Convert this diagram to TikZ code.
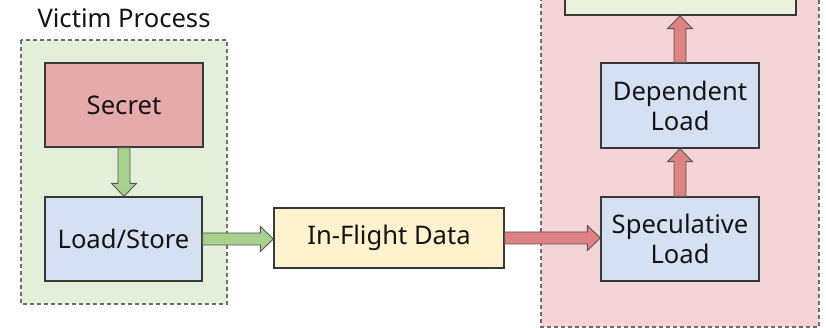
\documentclass[tikz,border=0pt]{standalone}
\usepackage{fontspec}
\setmainfont{Noto Sans}
\usetikzlibrary{calc}

\definecolor{victimbg}{HTML}{E3EFD9}
\definecolor{attackbg}{HTML}{F4D4D6}
\definecolor{secretfill}{HTML}{E6AAAA}
\definecolor{opfill}{HTML}{D5E1F3}
\definecolor{dataflight}{HTML}{FFF2CC}
\definecolor{resultfill}{HTML}{EBF1DA}
\definecolor{greenarrow}{HTML}{A9D18E}
\definecolor{redarrow}{HTML}{DF8283}
\definecolor{edge}{HTML}{383838}
\definecolor{dashgray}{HTML}{6E6E6E}
\definecolor{ink}{HTML}{141414}

\tikzset{
  region/.style={draw=dashgray, line width=1.2pt, dash pattern=on 4pt off 3pt},
  labelfont/.style={font=\fontsize{25.6}{30}\selectfont},
  box/.style={draw=edge, line width=1.3pt, text=ink, align=center,
              labelfont, inner sep=0pt},
  garrow/.style={draw=edge!85, line width=0.9pt, fill=greenarrow, line join=miter},
  rarrow/.style={draw=edge!85, line width=0.9pt, fill=redarrow, line join=miter},
}

% horizontal block arrow from east side of #1 to west side of #2
\newcommand\hblock[3]{%
  \draw[#3] let \p1=(#1.east), \p2=(#2.west) in
    (\x1,\y1+6pt) -- (\x2-13pt,\y1+6pt) -- (\x2-13pt,\y1+12.5pt) -- (\x2,\y1)
    -- (\x2-13pt,\y1-12.5pt) -- (\x2-13pt,\y1-6pt) -- (\x1,\y1-6pt) -- cycle;}
% vertical block arrow from side #2 of #1 to side #4 of #3
\newcommand\vblock[5]{%
  \draw[#5] let \p1=(#1.#2), \p2=(#3.#4), \n1={sign(\y2-\y1)} in
    (\x1-6pt,\y1) -- (\x1-6pt,\y2-\n1*13pt) -- (\x1-12.5pt,\y2-\n1*13pt) -- (\x1,\y2)
    -- (\x1+12.5pt,\y2-\n1*13pt) -- (\x1+6pt,\y2-\n1*13pt) -- (\x1+6pt,\y1) -- cycle;}

\begin{document}
\begin{tikzpicture}[x=1pt, y=-1pt]
  \useasboundingbox (0,0) rectangle (826,328);
  \fill[white] (0,0) rectangle (826,328);

  % process regions
  \draw[region, fill=victimbg] (21,40) rectangle (227,304);
  \draw[region, fill=attackbg] (541,-10) rectangle (819,327);
  \node[text=ink, anchor=base, labelfont] (victimlabel) at (124,28) {Victim Process};

  % victim side
  \node[box, fill=secretfill, minimum width=158pt, minimum height=84pt] (secret) at (124,105) {Secret};
  \node[box, fill=opfill, minimum width=157pt, minimum height=84pt] (loadstore) at (123.5,239) {Load/Store};

  % shared microarchitectural state
  \node[box, fill=dataflight, minimum width=230pt, minimum height=60pt] (inflight) at (389,238) {In-Flight Data};

  % attacker side
  \node[box, fill=opfill, minimum width=158pt, minimum height=84pt] (specload) at (680,239) {Speculative\\Load};
  \node[box, fill=opfill, minimum width=158pt, minimum height=85pt] (depload) at (680,105.5) {Dependent\\Load};
  \node[box, fill=resultfill, minimum width=231pt, minimum height=80pt] (result) at (680.5,-25) {};

  % data flow
  \vblock{secret}{south}{loadstore}{north}{garrow}
  \hblock{loadstore}{inflight}{garrow}
  \hblock{inflight}{specload}{rarrow}
  \vblock{specload}{north}{depload}{south}{rarrow}
  \vblock{depload}{north}{result}{south}{rarrow}
\end{tikzpicture}
\end{document}
